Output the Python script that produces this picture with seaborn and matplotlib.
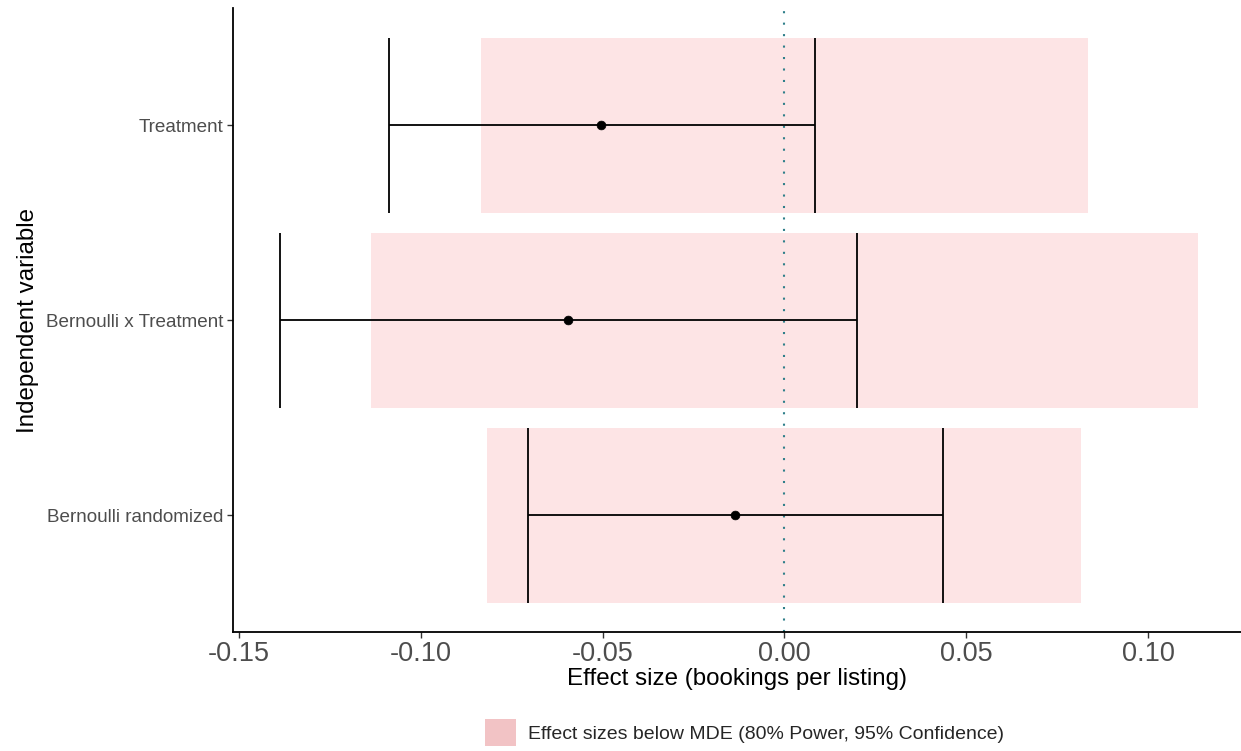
import numpy as np
import pandas as pd
import seaborn as sns
import matplotlib.pyplot as plt
from matplotlib.patches import Patch

# Values (bottom to top)
variables = ["Bernoulli randomized", "Bernoulli x Treatment", "Treatment"]
estimates = [-0.0135, -0.0594, -0.0504]
ci_low = [-0.0705, -0.1388, -0.1087]
ci_high = [0.0435, 0.0201, 0.0083]
mde = [0.0817, 0.1137, 0.0836]

df = pd.DataFrame({"variable": variables, "estimate": estimates,
                   "low": ci_low, "high": ci_high, "mde": mde})
df["pos"] = np.arange(len(df))

sns.set_style("ticks")
plt.rcParams["font.family"] = ["Liberation Sans", "DejaVu Sans"]

fig, ax = plt.subplots(figsize=(12.41, 7.51), dpi=100)
fig.subplots_adjust(left=0.188, right=1.0, top=0.989, bottom=0.158)

# MDE band for each variable
ax.barh(df["pos"], 2 * df["mde"], left=-df["mde"], height=0.9,
        color="#fde4e5", edgecolor="none", zorder=1)

# zero line
ax.axvline(0, color="#2f7f8a", linestyle=(0, (1, 4.5)), linewidth=1.5, zorder=2)

# confidence intervals
ax.hlines(df["pos"], df["low"], df["high"], color="black", linewidth=1.3, zorder=3)
ax.vlines(df["low"], df["pos"] - 0.45, df["pos"] + 0.45, color="black", linewidth=1.3, zorder=3)
ax.vlines(df["high"], df["pos"] - 0.45, df["pos"] + 0.45, color="black", linewidth=1.3, zorder=3)

sns.scatterplot(data=df, x="estimate", y="pos", color="black", s=40,
                edgecolor="black", zorder=4, ax=ax, legend=False)

ax.set_xlim(-0.1516, 0.1256)
ax.set_ylim(-0.6, 2.6)
ax.set_yticks(df["pos"])
ax.set_yticklabels(df["variable"])
ax.set_xticks([-0.15, -0.10, -0.05, 0.00, 0.05, 0.10])
ax.set_xticklabels(["-0.15", "-0.10", "-0.05", "0.00", "0.05", "0.10"])

for s in ["top", "right"]:
    ax.spines[s].set_visible(False)
for s in ["left", "bottom"]:
    ax.spines[s].set_color("black")
    ax.spines[s].set_linewidth(1.3)

ax.tick_params(axis="x", bottom=True, labelsize=19.5, labelcolor="#4d4d4d",
               length=4, width=1, color="#333333", pad=2)
ax.tick_params(axis="y", left=True, labelsize=13.6, labelcolor="#4d4d4d",
               length=4, width=1, color="#333333", pad=3)
ax.set_xlabel("Effect size (bookings per listing)", fontsize=17.4, color="black", labelpad=1)
ax.set_ylabel("Independent variable", fontsize=17.4, color="black", labelpad=5)

key = Patch(facecolor="#f2c3c5", edgecolor="none")
fig.legend([key], ["Effect sizes below MDE (80% Power, 95% Confidence)"],
           loc="lower center", bbox_to_anchor=(0.6, -0.016),
           frameon=False, fontsize=14, handlelength=1.6, handleheight=1.7,
           handletextpad=0.6)

fig.savefig("out.png", dpi=100)
